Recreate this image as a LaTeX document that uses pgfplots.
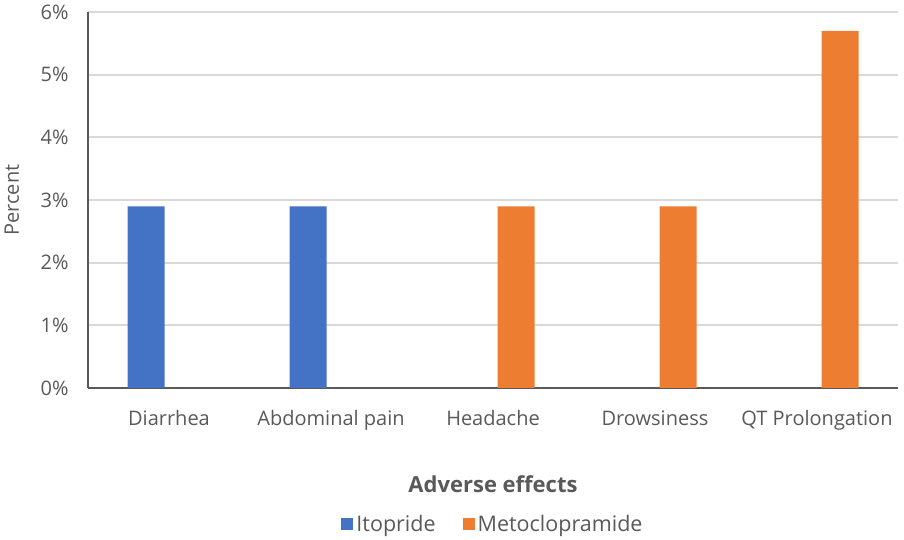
\documentclass[border=0pt]{standalone}
\usepackage{pgfplots}
\pgfplotsset{compat=1.18}
\usepackage{fontspec}
\setmainfont{Open Sans}
\definecolor{itop}{HTML}{4472C4}
\definecolor{meto}{HTML}{ED7D31}
\definecolor{txt}{HTML}{595959}
\definecolor{grd}{HTML}{D9D9D9}
\begin{document}
\begin{tikzpicture}[x=1pt,y=1pt]
\useasboundingbox (-88,-152) rectangle (816,388);
\begin{axis}[
  at={(0,0)}, anchor=south west,
  scale only axis, width=810pt, height=376pt,
  ybar, bar width=37pt, ybar=9pt,
  xmin=-0.5, xmax=4.5, ymin=0, ymax=6,
  xtick={0,1,2,3,4},
  xticklabels={Diarrhea,Abdominal pain,Headache,Drowsiness,QT Prolongation},
  ytick={0,1,2,3,4,5,6},
  yticklabel={\pgfmathprintnumber{\tick}\%},
  /pgf/number format/assume math mode=true,
  ymajorgrids, grid style={grd, line width=1.8pt},
  axis x line*=bottom, axis y line*=left,
  axis line style={txt, line width=1.6pt, -},
  x axis line style={-}, y axis line style={-},
  major tick length=0pt,
  tick label style={txt, font=\fontsize{20}{24}\selectfont},
  xticklabel style={yshift=-19pt},
  yticklabel style={xshift=-16pt},
  ylabel={Percent}, ylabel style={txt, font=\fontsize{20}{24}\selectfont, at={(axis description cs:-0.094,0.5)}, anchor=center},
  xlabel={\bfseries Adverse effects}, xlabel style={txt, font=\fontsize{22}{26}\selectfont, at={(axis description cs:0.5,0)}, anchor=center, yshift=-96pt},
  legend style={at={(axis description cs:0.5,0)}, anchor=center, yshift=-136pt, draw=none, fill=none,
    font=\fontsize{21.5}{25}\selectfont, text=txt, legend columns=2,
    /tikz/every even column/.append style={column sep=25pt},
    /tikz/every odd column/.append style={column sep=1pt}},
  legend image code/.code={\fill[#1] (0pt,-6pt) rectangle (12pt,6pt);},
]
\addplot[fill=itop, draw=none] coordinates {(0,2.9) (1,2.9)};
\addplot[fill=meto, draw=none] coordinates {(2,2.9) (3,2.9) (4,5.7)};
\legend{Itopride,Metoclopramide}
\end{axis}
\end{tikzpicture}
\end{document}
